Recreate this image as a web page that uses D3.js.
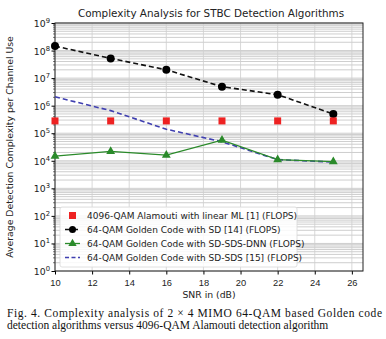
<!DOCTYPE html>
<html>
<head>
<meta charset="utf-8">
<script src="https://cdn.jsdelivr.net/npm/d3@7"></script>
<style>
  body { margin: 0; background: #fff; }
  svg { display: block; font-family: "DejaVu Sans", sans-serif; }
</style>
</head>
<body>
<div id="chart"></div>
<script>
// data
const snr = [10, 13, 16, 19, 22, 25];
const alamoutiML = [2.8e5, 2.8e5, 2.8e5, 2.8e5, 2.8e5, 2.8e5];
const goldenSD = [1.45e8, 5.2e7, 2.0e7, 4.9e6, 2.5e6, 5.0e5];
const goldenDNN = [1.48e4, 2.2e4, 1.6e4, 5.6e4, 1.1e4, 9.3e3];
const goldenSDS = [2.1e6, 6.6e5, 1.4e5, 4.9e4, 1.1e4, 9.0e3];
const xTicks = [10, 12, 14, 16, 18, 20, 22, 24, 26];
const yExps = [0, 1, 2, 3, 4, 5, 6, 7, 8, 9];
const legendLabels = [
    "4096-QAM Alamouti with linear ML [1] (FLOPS)",
    "64-QAM Golden Code with SD [14] (FLOPS)",
    "64-QAM Golden Code with SD-SDS-DNN (FLOPS)",
    "64-QAM Golden Code with SD-SDS [15] (FLOPS)"
];

const W = 386, H = 339;
const margin = {top: 23, right: 23, bottom: 68, left: 55};
const iw = W - margin.left - margin.right;
const ih = H - margin.top - margin.bottom;

const svg = d3.select("#chart").append("svg")
    .attr("width", W)
    .attr("height", H);

const g = svg.append("g")
    .attr("transform", `translate(${margin.left},${margin.top})`);

const x = d3.scaleLinear().domain([10, 26.6]).range([0, iw]);
const y = d3.scaleLog().domain([1, 1e9]).range([ih, 0]);

// minor horizontal grid (2..9 x each decade)
let minor = [];
yExps.slice(0, 9).forEach(e => {
    for (let k = 2; k <= 9; k++) minor.push(k * Math.pow(10, e));
});

g.selectAll(".minorGrid")
    .data(minor)
    .enter().append("line")
    .attr("x1", 0).attr("x2", iw)
    .attr("y1", d => y(d)).attr("y2", d => y(d))
    .attr("stroke", "#c2c2c2")
    .attr("stroke-width", 0.8);

g.selectAll(".majorGrid")
    .data(yExps)
    .enter().append("line")
    .attr("x1", 0).attr("x2", iw)
    .attr("y1", d => y(Math.pow(10, d))).attr("y2", d => y(Math.pow(10, d)))
    .attr("stroke", "#c2c2c2")
    .attr("stroke-width", 0.8);

g.selectAll(".xGrid")
    .data(xTicks)
    .enter().append("line")
    .attr("x1", d => x(d)).attr("x2", d => x(d))
    .attr("y1", 0).attr("y2", ih)
    .attr("stroke", "#cfcfcf")
    .attr("stroke-width", 0.8);

// axes
const xAxis = d3.axisBottom(x).tickValues(xTicks).tickSize(3.5).tickFormat(d3.format("d"));
const gx = g.append("g").attr("transform", `translate(0,${ih})`).call(xAxis);
gx.select(".domain").remove();
gx.selectAll("text").attr("font-size", 9.3).attr("fill", "#222").attr("dy", "0.9em");

const yAxis = d3.axisLeft(y).tickValues(yExps.map(e => Math.pow(10, e))).tickSize(3.5).tickFormat("");
const gy = g.append("g").call(yAxis);
gy.select(".domain").remove();

// minor y ticks
g.selectAll(".yMinorTick")
    .data(minor)
    .enter().append("line")
    .attr("x1", -2).attr("x2", 0)
    .attr("y1", d => y(d)).attr("y2", d => y(d))
    .attr("stroke", "#222").attr("stroke-width", 0.6);

// y tick labels with superscript
const yl = g.selectAll(".yLab")
    .data(yExps)
    .enter().append("text")
    .attr("x", -5)
    .attr("y", d => y(Math.pow(10, d)) + 4)
    .attr("text-anchor", "end")
    .attr("font-size", 9.3)
    .attr("fill", "#222");
yl.append("tspan").text("10");
yl.append("tspan").attr("dy", -4).attr("font-size", 6.8).text(d => d);

// frame
g.append("rect")
    .attr("width", iw).attr("height", ih)
    .attr("fill", "none")
    .attr("stroke", "#222").attr("stroke-width", 1);

// lines
const line = d3.line().x((d, i) => x(snr[i])).y(d => y(d));

g.append("path").datum(goldenSDS)
    .attr("d", line)
    .attr("fill", "none")
    .attr("stroke", "#3f3fb0")
    .attr("stroke-width", 1.6)
    .attr("stroke-dasharray", "5,3");

g.append("path").datum(goldenDNN)
    .attr("d", line)
    .attr("fill", "none")
    .attr("stroke", "#2a8a2a")
    .attr("stroke-width", 1.3);

g.selectAll(".tri")
    .data(goldenDNN)
    .enter().append("path")
    .attr("d", d3.symbol().type(d3.symbolTriangle).size(34))
    .attr("transform", (d, i) => `translate(${x(snr[i])},${y(d)})`)
    .attr("fill", "#2a8a2a");

g.append("path").datum(goldenSD)
    .attr("d", line)
    .attr("fill", "none")
    .attr("stroke", "#111")
    .attr("stroke-width", 1.6)
    .attr("stroke-dasharray", "5,3");

g.selectAll(".dot")
    .data(goldenSD)
    .enter().append("circle")
    .attr("cx", (d, i) => x(snr[i]))
    .attr("cy", d => y(d))
    .attr("r", 4)
    .attr("fill", "#000");

g.selectAll(".sq")
    .data(alamoutiML)
    .enter().append("rect")
    .attr("x", (d, i) => x(snr[i]) - 3.5)
    .attr("y", d => y(d) - 3.5)
    .attr("width", 7).attr("height", 7)
    .attr("fill", "#ee2222");

// legend
const lg = g.append("g").attr("transform", `translate(${60 - margin.left},${207 - margin.top})`);
lg.append("rect")
    .attr("width", 237).attr("height", 60)
    .attr("rx", 2)
    .attr("fill", "#fff").attr("fill-opacity", 0.85)
    .attr("stroke", "#d8d8d8").attr("stroke-width", 0.8);

const rowY = i => 8.5 + i * 14;

lg.append("rect").attr("x", 9).attr("y", rowY(0) - 3.5).attr("width", 7).attr("height", 7).attr("fill", "#ee2222");

lg.append("line").attr("x1", 5).attr("x2", 20).attr("y1", rowY(1)).attr("y2", rowY(1))
    .attr("stroke", "#111").attr("stroke-width", 1.6).attr("stroke-dasharray", "5,3");
lg.append("circle").attr("cx", 12.5).attr("cy", rowY(1)).attr("r", 3.5).attr("fill", "#000");

lg.append("line").attr("x1", 5).attr("x2", 20).attr("y1", rowY(2)).attr("y2", rowY(2))
    .attr("stroke", "#2a8a2a").attr("stroke-width", 1.3);
lg.append("path").attr("d", d3.symbol().type(d3.symbolTriangle).size(30))
    .attr("transform", `translate(12.5,${rowY(2)})`).attr("fill", "#2a8a2a");

lg.append("line").attr("x1", 5).attr("x2", 20).attr("y1", rowY(3)).attr("y2", rowY(3))
    .attr("stroke", "#3f3fb0").attr("stroke-width", 1.4).attr("stroke-dasharray", "4,2.5");

lg.selectAll(".lgText")
    .data(legendLabels)
    .enter().append("text")
    .attr("x", 27)
    .attr("y", (d, i) => rowY(i) + 3.5)
    .attr("font-size", 9)
    .attr("fill", "#222")
    .text(d => d);

// titles
svg.append("text")
    .attr("x", margin.left + iw / 2 + 2)
    .attr("y", 17)
    .attr("text-anchor", "middle")
    .attr("font-size", 10.4)
    .attr("fill", "#222")
    .text("Complexity Analysis for STBC Detection Algorithms");

svg.append("text")
    .attr("x", margin.left + iw / 2)
    .attr("y", ih + margin.top + 27)
    .attr("text-anchor", "middle")
    .attr("font-size", 9.3)
    .attr("fill", "#222")
    .text("SNR in (dB)");

svg.append("text")
    .attr("transform", `translate(13,${margin.top + ih / 2}) rotate(-90)`)
    .attr("text-anchor", "middle")
    .attr("font-size", 9.3)
    .attr("fill", "#222")
    .text("Average Detection Complexity per Channel Use");

// caption
svg.append("text")
    .attr("x", 7).attr("y", 317)
    .attr("font-family", "'Liberation Serif', 'Times New Roman', serif")
    .attr("font-size", 11.5)
    .attr("fill", "#111")
    .attr("textLength", 375)
    .attr("lengthAdjust", "spacing")
    .text("Fig. 4. Complexity analysis of 2 \u00d7 4 MIMO 64-QAM based Golden code");

svg.append("text")
    .attr("x", 7).attr("y", 329)
    .attr("font-family", "'Liberation Serif', 'Times New Roman', serif")
    .attr("font-size", 11.5)
    .attr("fill", "#111")
    .text("detection algorithms versus 4096-QAM Alamouti detection algorithm");
</script>
</body>
</html>
